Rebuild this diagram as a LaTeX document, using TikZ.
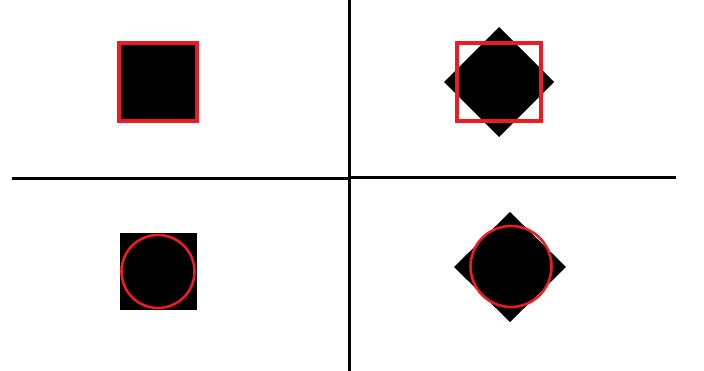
\documentclass[tikz,border=0pt]{standalone}
\definecolor{pred}{RGB}{237,28,36}
\tikzset{
  axis/.style={line width=3pt,black},
  redline/.style={line width=3.2pt,pred},
}
\begin{document}
\begin{tikzpicture}[x=1pt,y=-1pt]
\useasboundingbox[fill=white] (0,0) rectangle (704,371);
% axes
\draw[axis] (12,179) -- (349,179);
\draw[axis] (349,177.5) -- (676,177.5);
\draw[axis] (349,0) -- (349,371);
% top-left: square with red square border
\fill[black] (119,43) rectangle (197,121);
\draw[redline] (119,43) rectangle (197,121);
% top-right: diamond with red square
\fill[black] (499,27) -- (554,82) -- (499,137) -- (444,82) -- cycle;
\draw[redline] (457,43) rectangle (541,121);
% bottom-left: square with red circle
\fill[black] (120,233) rectangle (197,310);
\draw[redline,line width=2.6pt] (158,271.5) circle (36.5);
% bottom-right: diamond with red circle
\fill[black] (510,212) -- (566,267) -- (510,322) -- (454,267) -- cycle;
\draw[redline,line width=2.6pt] (511,266.5) circle (40.5);
\end{tikzpicture}
\end{document}
